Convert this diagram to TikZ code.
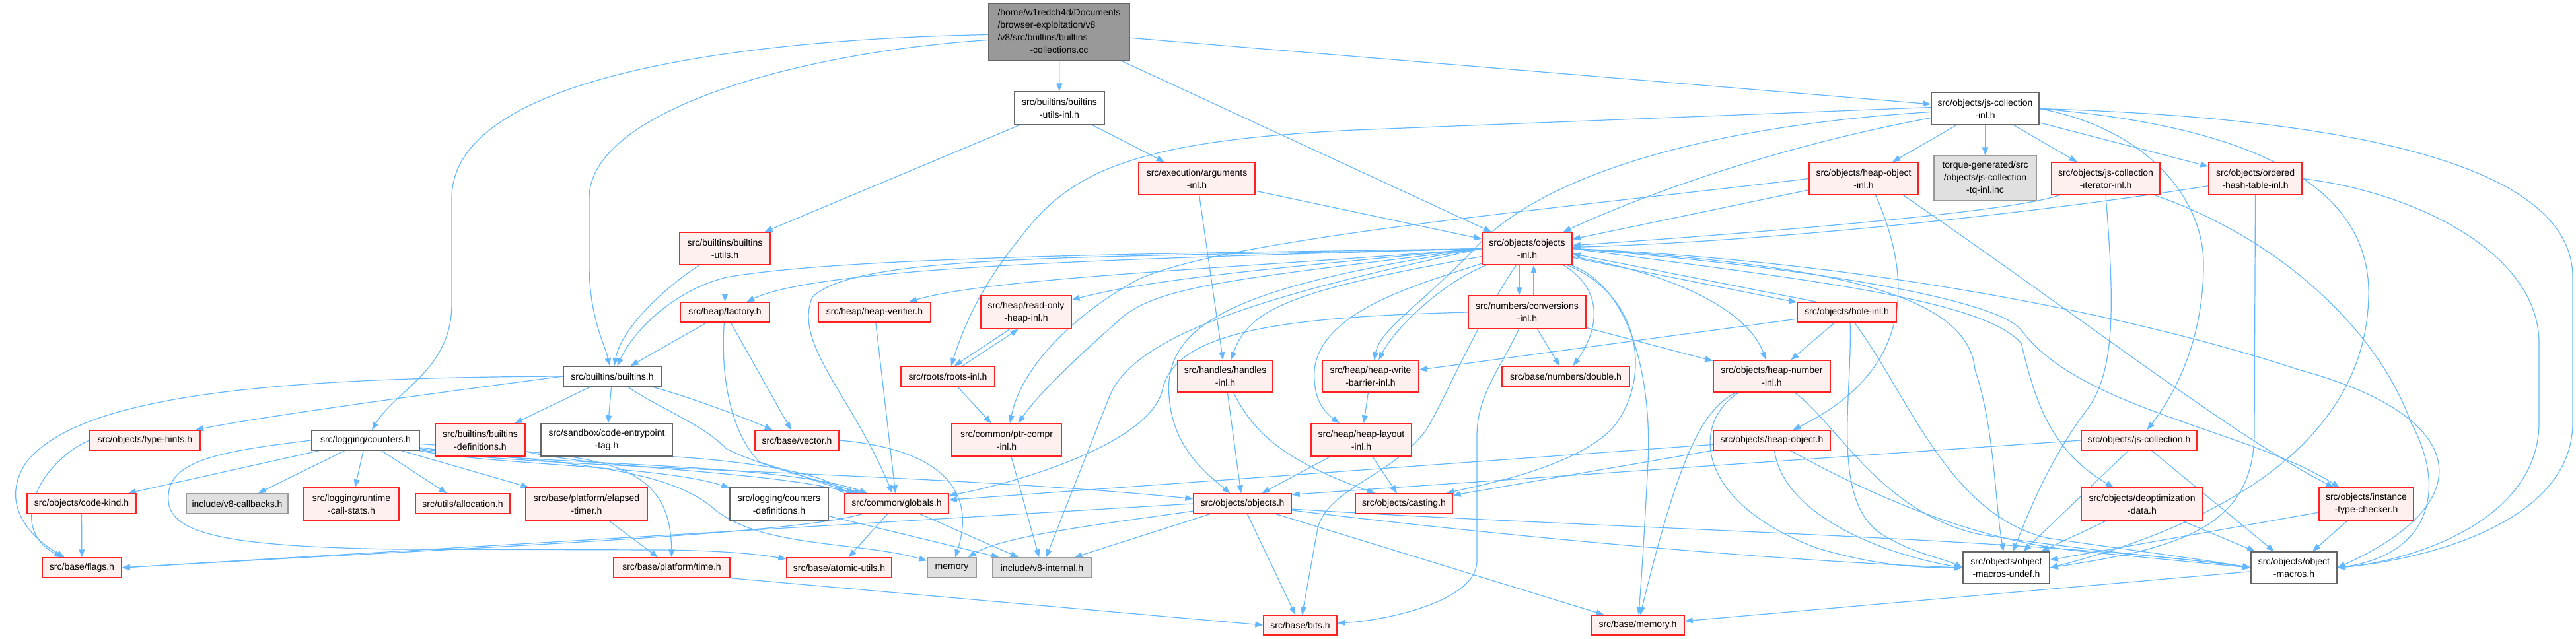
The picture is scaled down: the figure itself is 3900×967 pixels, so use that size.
\documentclass[tikz,border=0pt]{standalone}
\usepackage{fontspec}
\setmainfont{Liberation Sans}
\usetikzlibrary{arrows.meta}
\pgfdeclarelayer{bg}
\pgfsetlayers{bg,main}
\definecolor{eb}{HTML}{63B8FF}
\definecolor{rfill}{HTML}{FFF0F0}
\definecolor{rbord}{HTML}{FF2020}
\definecolor{gforty}{HTML}{666666}
\definecolor{gsixty}{HTML}{999999}
\definecolor{geightyseven}{HTML}{E0E0E0}
\newcommand{\nd}[7]{\node[#6,minimum width={(#4)-(#2)},minimum height={(#5)-(#3)}] (#1) at ({((#2)+(#4))/2},{((#3)+(#5))/2}) {#7};}
\tikzset{
  lnk/.style={draw=eb, line width=1.2pt, -{Triangle[length=12pt,width=9pt]}},
  bn/.style={draw, line width=1.4pt, inner sep=0pt, align=center, font={\fontsize{14}{19}\selectfont}, text=black},
  rn/.style={bn, draw=rbord, fill=rfill},
  wn/.style={bn, draw=gforty, fill=white},
  gn/.style={bn, draw=gsixty, fill=geightyseven},
  mn/.style={bn, draw=gforty, fill=gsixty},
}
\begin{document}
\begin{tikzpicture}[x=1pt,y=-1pt]
\useasboundingbox (0,0) rectangle (3900,967);
\begin{pgfonlayer}{bg}
\fill[white] (0,0) rectangle (3900,967);
\end{pgfonlayer}
% nodes
\nd{main}{1497}{5}{1710}{92}{mn}{\begin{tabular}{@{}l@{}}/home/w1redch4d/Documents\\/browser-exploitation/v8\\/v8/src/builtins/builtins\\\multicolumn{1}{@{}c@{}}{-collections.cc}\end{tabular}}
\nd{bui}{1536}{139}{1672}{189}{wn}{src/builtins/builtins\\-utils-inl.h}
\nd{arg}{1724}{246}{1900}{295}{rn}{src/execution/arguments\\-inl.h}
\nd{jci}{2924}{140}{3087}{189}{wn}{src/objects/js-collection\\-inl.h}
\nd{hoi}{2739}{246}{2904}{295}{rn}{src/objects/heap-object\\-inl.h}
\nd{tq}{2928}{236}{3083}{304}{gn}{torque-generated/src\\/objects/js-collection\\-tq-inl.inc}
\nd{jcit}{3106}{246}{3270}{295}{rn}{src/objects/js-collection\\-iterator-inl.h}
\nd{oht}{3344}{246}{3485}{295}{rn}{src/objects/ordered\\-hash-table-inl.h}
\nd{bu}{1029}{352}{1166}{401}{rn}{src/builtins/builtins\\-utils.h}
\nd{fac}{1030}{458}{1165}{488}{rn}{src/heap/factory.h}
\nd{hv}{1239}{458}{1409}{488}{rn}{src/heap/heap-verifier.h}
\nd{roh}{1485}{448}{1622}{498}{rn}{src/heap/read-only\\-heap-inl.h}
\nd{oi}{2244}{352}{2380}{401}{rn}{src/objects/objects\\-inl.h}
\nd{conv}{2223}{448}{2401}{498}{rn}{src/numbers/conversions\\-inl.h}
\nd{hole}{2721}{458}{2871}{488}{rn}{src/objects/hole-inl.h}
\nd{bh}{853}{555}{1001}{585}{wn}{src/builtins/builtins.h}
\nd{roots}{1364}{555}{1506}{585}{rn}{src/roots/roots-inl.h}
\nd{hnd}{1783}{546}{1927}{594}{rn}{src/handles/handles\\-inl.h}
\nd{hwb}{2002}{546}{2148}{594}{rn}{src/heap/heap-write\\-barrier-inl.h}
\nd{dbl}{2274}{555}{2467}{585}{rn}{src/base/numbers/double.h}
\nd{hn}{2594}{546}{2771}{594}{rn}{src/objects/heap-number\\-inl.h}
\nd{bdef}{659}{642}{795}{691}{rn}{src/builtins/builtins\\-definitions.h}
\nd{sbx}{819}{642}{1018}{691}{wn}{src/sandbox/code-entrypoint\\-tag.h}
\nd{pc}{1441}{642}{1607}{691}{rn}{src/common/ptr-compr\\-inl.h}
\nd{hl}{1985}{642}{2137}{691}{rn}{src/heap/heap-layout\\-inl.h}
\nd{th}{136}{652}{303}{682}{rn}{src/objects/type-hints.h}
\nd{cnt}{472}{652}{635}{682}{wn}{src/logging/counters.h}
\nd{vec}{1143}{652}{1270}{682}{rn}{src/base/vector.h}
\nd{ho}{2594}{652}{2771}{682}{rn}{src/objects/heap-object.h}
\nd{jc}{3151}{652}{3326}{682}{rn}{src/objects/js-collection.h}
\nd{ck}{41}{748}{206}{778}{rn}{src/objects/code-kind.h}
\nd{cb}{282}{748}{436}{778}{gn}{include/v8-callbacks.h}
\nd{rcs}{460}{739}{604}{788}{rn}{src/logging/runtime\\-call-stats.h}
\nd{alloc}{629}{748}{772}{778}{rn}{src/utils/allocation.h}
\nd{et}{796}{739}{980}{788}{rn}{src/base/platform/elapsed\\-timer.h}
\nd{cdef}{1105}{739}{1254}{788}{wn}{src/logging/counters\\-definitions.h}
\nd{glob}{1279}{748}{1436}{778}{rn}{src/common/globals.h}
\nd{obj}{1807}{748}{1955}{778}{rn}{src/objects/objects.h}
\nd{cast}{2052}{748}{2199}{778}{rn}{src/objects/casting.h}
\nd{deo}{3151}{739}{3335}{788}{rn}{src/objects/deoptimization\\-data.h}
\nd{itc}{3511}{739}{3654}{788}{rn}{src/objects/instance\\-type-checker.h}
\nd{omu}{2972}{836}{3103}{884}{wn}{src/objects/object\\-macros-undef.h}
\nd{om}{3408}{836}{3538}{884}{wn}{src/objects/object\\-macros.h}
\nd{flags}{64}{845}{184}{875}{rn}{src/base/flags.h}
\nd{time}{929}{845}{1105}{875}{rn}{src/base/platform/time.h}
\nd{atom}{1191}{845}{1350}{875}{rn}{src/base/atomic-utils.h}
\nd{mem}{1404}{845}{1478}{875}{gn}{memory}
\nd{v8i}{1503}{845}{1652}{875}{gn}{include/v8-internal.h}
\nd{bits}{1913}{932}{2024}{962}{rn}{src/base/bits.h}
\nd{memh}{2409}{932}{2550}{962}{rn}{src/base/memory.h}
\begin{pgfonlayer}{bg}
% main
\draw[lnk] (main) -- (bui);
\draw[lnk] (main) -- (jci);
\draw[lnk] (main) -- (oi);
\draw[lnk] ([yshift=-4pt]main.west) .. controls (1100,60) and (684,120) .. (684,300) -- (684,460) .. controls (684,560) and (600,590) .. (cnt);
\draw[lnk] ([yshift=-12pt]main.west) .. controls (1200,80) and (892,170) .. (892,300) -- (892,400) .. controls (892,480) and (915,520) .. (bh);
% builtins-utils-inl, arguments
\draw[lnk] (bui) -- (bu);
\draw[lnk] (bui) -- (arg);
\draw[lnk] (arg) -- (hnd);
\draw[lnk] (arg) -- (oi);
% js-collection-inl
\draw[lnk] (jci) -- (hoi);
\draw[lnk] (jci) -- (tq);
\draw[lnk] (jci) -- (jcit);
\draw[lnk] (jci) -- (oht);
\draw[lnk] ([yshift=-14pt]jci.west) .. controls (2700,220) and (2500,290) .. (oi);
\draw[lnk] ([yshift=2pt]jci.west) -- (2050,197) .. controls (1750,212) and (1640,250) .. (1565,335) .. controls (1510,400) and (1470,460) .. (roots);
\draw[lnk] ([yshift=-5pt]jci.west) .. controls (2600,190) and (2330,260) .. (2225,385) .. controls (2140,470) and (2090,500) .. (hwb);
\draw[lnk] (jci.east) .. controls (3250,195) and (3336,300) .. (3336,400) .. controls (3336,520) and (3290,600) .. (jc);
\draw[lnk] (jci.east) .. controls (3450,195) and (3590,300) .. (3586,450) .. controls (3580,700) and (3300,810) .. (omu.east);
\draw[lnk] (jci.east) .. controls (3600,180) and (3895,260) .. (3895,420) -- (3895,640) .. controls (3895,800) and (3650,850) .. (om.east);
% heap-object-inl
\draw[lnk] (hoi) -- (oi);
\draw[lnk] (hoi.west) .. controls (2400,312) and (1850,360) .. (1720,425) .. controls (1620,480) and (1545,560) .. (pc);
\draw[lnk] ([xshift=18pt]hoi.south) .. controls (2895,420) and (2900,560) .. (ho);
\draw[lnk] ([xshift=60pt]hoi.south) .. controls (3150,480) and (3380,660) .. (itc);
% iterator, ordered hash table
\draw[lnk] (jcit) .. controls (3050,320) and (2700,350) .. (oi);
\draw[lnk] (jcit.south) .. controls (3200,450) and (3205,560) .. (3160,620) .. controls (3100,700) and (3070,780) .. (omu);
\draw[lnk] (jcit) .. controls (3450,360) and (3600,500) .. (3650,640) .. controls (3705,740) and (3680,840) .. (om.east);
\draw[lnk] (oht) .. controls (3100,320) and (2700,365) .. (oi);
\draw[lnk] (oht.south) -- (3413,650) .. controls (3415,800) and (3300,830) .. (omu.east);
\draw[lnk] (oht.east) .. controls (3650,290) and (3844,380) .. (3844,520) -- (3844,640) .. controls (3844,790) and (3650,850) .. (om.east);
% objects-inl outgoing
\draw[lnk] (oi.west) .. controls (1900,383) and (1300,385) .. (1100,420) .. controls (1020,440) and (960,500) .. (bh);
\draw[lnk] (oi.west) .. controls (1800,390) and (1250,400) .. (fac);
\draw[lnk] (oi.west) .. controls (1900,405) and (1500,420) .. (hv);
\draw[lnk] (oi.west) .. controls (2000,400) and (1750,420) .. (roh);
\draw[lnk] (oi.west) .. controls (1700,392) and (1300,380) .. (1230,450) .. controls (1200,520) and (1290,600) .. (glob);
\draw[lnk] (oi.west) .. controls (1900,420) and (1760,430) .. (1700,480) .. controls (1620,550) and (1570,600) .. (pc);
\draw[lnk] (oi) .. controls (1950,440) and (1890,470) .. (hnd);
\draw[lnk] (oi.west) .. controls (1900,430) and (1760,480) .. (1770,600) .. controls (1775,680) and (1830,720) .. (obj);
\draw[lnk] (oi.west) .. controls (1950,440) and (1720,500) .. (1680,600) -- (v8i);
\draw[lnk] (oi) .. controls (2230,500) and (2190,600) .. (2160,650) .. controls (2110,720) and (2010,740) .. (1995,800) -- (bits);
\draw[lnk] (oi) .. controls (2150,430) and (2000,470) .. (1990,560) .. controls (1988,600) and (2000,620) .. (hl);
\draw[lnk] (oi) .. controls (2180,430) and (2110,500) .. (hwb);
\draw[lnk] ([xshift=-12pt]oi.south) -- ([xshift=-12pt]conv.north);
\draw[lnk] ([xshift=10pt]conv.north) -- ([xshift=10pt]oi.south);
\draw[lnk] ([xshift=55pt]oi.south) .. controls (2430,440) and (2420,500) .. (dbl);
\draw[lnk] (oi) .. controls (2480,440) and (2500,600) .. (2495,700) .. controls (2490,800) and (2485,880) .. (memh);
\draw[lnk] (oi) .. controls (2560,420) and (2650,480) .. (hn);
\draw[lnk] (oi) -- (hole);
\draw[lnk] ([xshift=30pt]hole.north west) -- ([yshift=-8pt]oi.east);
\draw[lnk] (oi) .. controls (2490,450) and (2500,580) .. (2440,650) .. controls (2380,710) and (2240,735) .. (cast);
\draw[lnk] (oi.east) .. controls (2700,420) and (3000,450) .. (3060,520) .. controls (3080,600) and (3100,680) .. (deo);
\draw[lnk] (oi.east) .. controls (2800,410) and (3030,460) .. (3060,500) .. controls (3150,620) and (3400,650) .. (itc);
\draw[lnk] (oi.east) .. controls (2900,400) and (3300,500) .. (3480,560) .. controls (3740,630) and (3760,760) .. (om.east);
\draw[lnk] (oi.east) .. controls (2750,400) and (2980,440) .. (2990,560) .. controls (3020,650) and (3020,760) .. (omu);
% hole-inl
\draw[lnk] (hole) -- (hwb);
\draw[lnk] (hole) -- (hn);
\draw[lnk] ([xshift=5pt]hole.south) .. controls (2805,600) and (2770,760) .. (2850,810) .. controls (2900,840) and (2940,845) .. (omu.west);
\draw[lnk] (hole) .. controls (2890,600) and (2950,780) .. (3100,815) .. controls (3200,830) and (3320,845) .. (om.west);
% heap-number-inl
\draw[lnk] ([xshift=-54pt]hn.south) .. controls (2575,620) and (2540,700) .. (memh);
\draw[lnk] ([xshift=-50pt]hn.south) .. controls (2560,640) and (2565,760) .. (2750,830) .. controls (2850,860) and (2920,860) .. (omu.west);
\draw[lnk] (hn) .. controls (2780,640) and (2850,780) .. (3000,810) .. controls (3200,840) and (3350,850) .. (om.west);
% heap-object.h
\draw[lnk] (ho) -- (glob);
\draw[lnk] (ho) -- (cast);
\draw[lnk] ([xshift=4pt]ho.south) .. controls (2700,780) and (2850,840) .. (omu.west);
\draw[lnk] (ho) .. controls (2850,760) and (3000,820) .. (3150,835) -- (om.west);
% objects.h
\draw[lnk] (obj.west) -- (flags.east);
\draw[lnk] (obj) .. controls (1700,790) and (1520,810) .. (mem);
\draw[lnk] (obj) -- (v8i);
\draw[lnk] (obj) -- (bits);
\draw[lnk] (obj) -- (memh);
\draw[lnk] ([yshift=-10pt]obj.east) .. controls (2300,815) and (2700,850) .. (omu.west);
\draw[lnk] ([yshift=-8pt]obj.east) .. controls (2400,800) and (3100,815) .. (om.west);
% js-collection.h, deopt, instance type checker
\draw[lnk] (jc.west) -- ([yshift=-2pt]obj.north east);
\draw[lnk] (jc) -- (omu);
\draw[lnk] (jc) -- (om);
\draw[lnk] (deo) -- (omu);
\draw[lnk] (deo) -- (om);
\draw[lnk] (itc) -- (omu);
\draw[lnk] (itc) -- (om);
\draw[lnk] (om) -- (memh);
% heap layout, write barrier, handles
\draw[lnk] (hwb) -- (hl);
\draw[lnk] (hl) -- (cast);
\draw[lnk] (hl) -- (obj);
\draw[lnk] (hnd) -- (obj);
\draw[lnk] (hnd) .. controls (1900,660) and (1950,700) .. (cast);
% conversions
\draw[lnk] (conv) -- (dbl);
\draw[lnk] (conv) -- (hn);
\draw[lnk] (conv) .. controls (2270,560) and (2236,600) .. (2236,660) -- (2236,850) .. controls (2236,910) and (2100,940) .. (bits);
\draw[lnk] (conv.west) .. controls (1950,480) and (1780,500) .. (1760,590) .. controls (1740,680) and (1500,740) .. (glob);
% roots, read-only heap, ptr-compr
\draw[lnk] (roots) -- (pc);
\draw[lnk] ([xshift=-25pt]roh.south) -- ([xshift=10pt]roots.north);
\draw[lnk] ([xshift=22pt]roots.north) -- ([xshift=-12pt]roh.south);
\draw[lnk] (pc) -- (v8i);
\draw[lnk] (hv) -- (glob);
% factory, builtins-utils
\draw[lnk] (fac) -- (bh);
\draw[lnk] (fac) -- (vec);
\draw[lnk] (fac) .. controls (1090,580) and (1110,660) .. (1150,700) .. controls (1200,715) and (1250,735) .. (glob);
\draw[lnk] (bu) -- (fac);
\draw[lnk] (bu) .. controls (1000,440) and (940,500) .. (bh);
% builtins.h
\draw[lnk] (bh) -- (bdef);
\draw[lnk] (bh) -- (sbx);
\draw[lnk] (bh) .. controls (1040,600) and (1120,630) .. (vec);
\draw[lnk] (bh) .. controls (1000,620) and (1060,640) .. (1100,680) .. controls (1150,705) and (1230,725) .. (glob);
\draw[lnk] (bh.west) .. controls (700,590) and (400,630) .. (th);
\draw[lnk] (bh.west) .. controls (400,572) and (120,600) .. (40,700) .. controls (0,760) and (40,810) .. (flags);
\draw[lnk] (th.west) .. controls (60,700) and (10,800) .. (flags);
\draw[lnk] (ck) -- (flags);
\draw[lnk] (bdef) .. controls (900,710) and (1150,712) .. (glob);
\draw[lnk] (sbx.south east) .. controls (1150,700) and (1250,720) .. (glob.north west);
% counters.h
\draw[lnk] (cnt) -- (ck);
\draw[lnk] (cnt) -- (cb);
\draw[lnk] (cnt) -- (rcs);
\draw[lnk] (cnt) -- (alloc);
\draw[lnk] (cnt) -- (et);
\draw[lnk] (cnt) .. controls (750,705) and (1000,705) .. (cdef);
\draw[lnk] (cnt) .. controls (800,705) and (1180,700) .. (glob);
\draw[lnk] (cnt) .. controls (800,710) and (1400,715) .. (obj);
\draw[lnk] (cnt) .. controls (900,690) and (1015,690) .. (time);
\draw[lnk] (cnt.west) .. controls (320,685) and (250,700) .. (255,760) .. controls (260,810) and (350,828) .. (600,832) -- (1000,833) .. controls (1100,834) and (1150,840) .. (atom);
\draw[lnk] (cnt) .. controls (800,700) and (1000,700) .. (1080,770) .. controls (1150,830) and (1300,820) .. (mem);
\draw[lnk] (et) -- (time);
\draw[lnk] (time.south east) -- (bits.west);
\draw[lnk] (cdef) -- (v8i);
% globals, vector
\draw[lnk] (glob) .. controls (1200,810) and (700,830) .. (flags.east);
\draw[lnk] (glob) -- (atom);
\draw[lnk] (glob) -- (v8i);
\draw[lnk] (vec.east) .. controls (1420,680) and (1480,740) .. (mem);
\end{pgfonlayer}
\end{tikzpicture}
\end{document}
